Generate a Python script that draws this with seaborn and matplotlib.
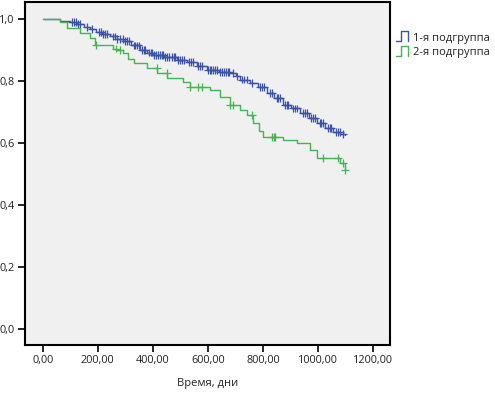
import numpy as np
import pandas as pd
import matplotlib
matplotlib.use("Agg")
import matplotlib.pyplot as plt
from matplotlib.lines import Line2D
from matplotlib.legend_handler import HandlerBase
from matplotlib.ticker import FuncFormatter
import seaborn as sns

# Кривые Каплана-Мейера (время, доля выживших после шага)
g1_times = [0, 63, 100, 125, 150, 170, 195, 215, 245, 270, 292, 320, 353, 380, 401,
            440, 487, 523, 560, 596, 640, 680, 700, 717, 752, 780, 814, 840, 873,
            900, 935, 965, 995, 1025, 1055, 1080, 1097]
g1_surv = [1.0, 0.995, 0.99, 0.985, 0.975, 0.968, 0.958, 0.952, 0.944, 0.936, 0.928,
           0.915, 0.90, 0.892, 0.885, 0.877, 0.869, 0.862, 0.848, 0.837, 0.830, 0.826,
           0.815, 0.805, 0.795, 0.782, 0.762, 0.745, 0.723, 0.712, 0.697, 0.680, 0.665,
           0.650, 0.637, 0.630, 0.625]
g1_censor = [105, 112, 120, 128, 135, 160, 180, 205, 212, 220, 228, 235, 255, 262, 270,
             280, 290, 300, 306, 312, 330, 336, 342, 348, 360, 366, 372, 385, 392, 398,
             405, 412, 418, 425, 432, 438, 445, 452, 458, 470, 476, 482, 490, 500, 506,
             512, 530, 537, 545, 565, 572, 580, 600, 606, 612, 620, 626, 632, 645, 652,
             658, 665, 672, 678, 690, 705, 725, 732, 740, 760, 790, 797, 805, 825, 832,
             850, 856, 862, 880, 886, 892, 910, 916, 922, 945, 952, 958, 975, 982, 988,
             1005, 1012, 1018, 1035, 1042, 1048, 1065, 1072, 1078, 1090]

g2_times = [0, 63, 88, 135, 172, 190, 256, 270, 292, 310, 330, 378, 415, 451, 510, 535,
            608, 644, 680, 716, 740, 764, 785, 800, 873, 923, 971, 995, 1079, 1097]
g2_surv = [1.0, 0.99, 0.97, 0.955, 0.94, 0.917, 0.905, 0.90, 0.89, 0.872, 0.858, 0.842,
           0.826, 0.81, 0.798, 0.782, 0.772, 0.75, 0.723, 0.707, 0.69, 0.665, 0.64, 0.62,
           0.61, 0.60, 0.578, 0.552, 0.535, 0.514]
g2_censor = [195, 265, 280, 414, 450, 535, 565, 580, 680, 690, 760, 832, 838, 843, 1018,
             1072, 1090, 1097]

groups = ["1-я подгруппа", "2-я подгруппа"]
colors = ["#3a52a8", "#45b553"]


def surv_at(times, surv, t):
    i = np.searchsorted(times, t, side="right") - 1
    return surv[i]


curves = []
marks = []
for name, times, surv, cens in [(groups[0], g1_times, g1_surv, g1_censor),
                                (groups[1], g2_times, g2_surv, g2_censor)]:
    curves.append(pd.DataFrame({"t": times, "s": surv, "group": name}))
    marks.append(pd.DataFrame({"t": cens,
                               "s": [surv_at(times, surv, c) for c in cens],
                               "group": name}))
curves = pd.concat(curves, ignore_index=True)
marks = pd.concat(marks, ignore_index=True)


class StepHandler(HandlerBase):
    def create_artists(self, legend, orig_handle, xdescent, ydescent,
                       width, height, fontsize, trans):
        x0 = -xdescent
        xs = [x0, x0 + width * 0.45, x0 + width * 0.45, x0 + width, x0 + width]
        ys = [-ydescent, -ydescent, height, height, -ydescent]
        ln = Line2D(xs, ys, color=orig_handle.get_color(), lw=1.0, transform=trans)
        return [ln]


sns.set_style("white")
plt.rcParams["font.family"] = ["Open Sans", "DejaVu Sans"]

fig = plt.figure(figsize=(4.95, 3.96), dpi=100)
ax = fig.add_axes([0.0495, 0.129, 0.7385, 0.866])
ax.set_facecolor("#f0f0f0")

sns.lineplot(data=curves, x="t", y="s", hue="group", palette=colors,
             drawstyle="steps-post", estimator=None, sort=False, lw=1.0,
             legend=False, ax=ax)
sns.scatterplot(data=marks, x="t", y="s", hue="group", palette=colors,
                marker="+", s=32, linewidth=0.9, legend=False, ax=ax)

ax.set_xlim(-66, 1261)
ax.set_ylim(-0.05, 1.055)
ax.set_xticks([0, 200, 400, 600, 800, 1000, 1200])
ax.set_yticks([0.0, 0.2, 0.4, 0.6, 0.8, 1.0])
ax.xaxis.set_major_formatter(FuncFormatter(lambda v, p: f"{v:.2f}".replace(".", ",")))
ax.yaxis.set_major_formatter(FuncFormatter(lambda v, p: f"{v:.1f}".replace(".", ",")))
ax.tick_params(direction="out", length=5, width=1.2, color="black",
               labelsize=7.8, labelcolor="#222222", left=True, bottom=True, pad=2)
for sp in ax.spines.values():
    sp.set_color("black")
    sp.set_linewidth(1.5)
ax.set_xlabel("Время, дни", fontsize=8, color="#222222", labelpad=9)
ax.set_ylabel("")

handles = [Line2D([], [], color=c) for c in colors]
fig.legend(handles, groups, handler_map={Line2D: StepHandler()},
           loc="upper left", bbox_to_anchor=(0.792, 0.93), frameon=False,
           fontsize=8, labelcolor="#222222", handlelength=1.0, handleheight=0.9,
           handletextpad=0.5, labelspacing=0.25, borderaxespad=0)

fig.savefig("out.png", dpi=100)
